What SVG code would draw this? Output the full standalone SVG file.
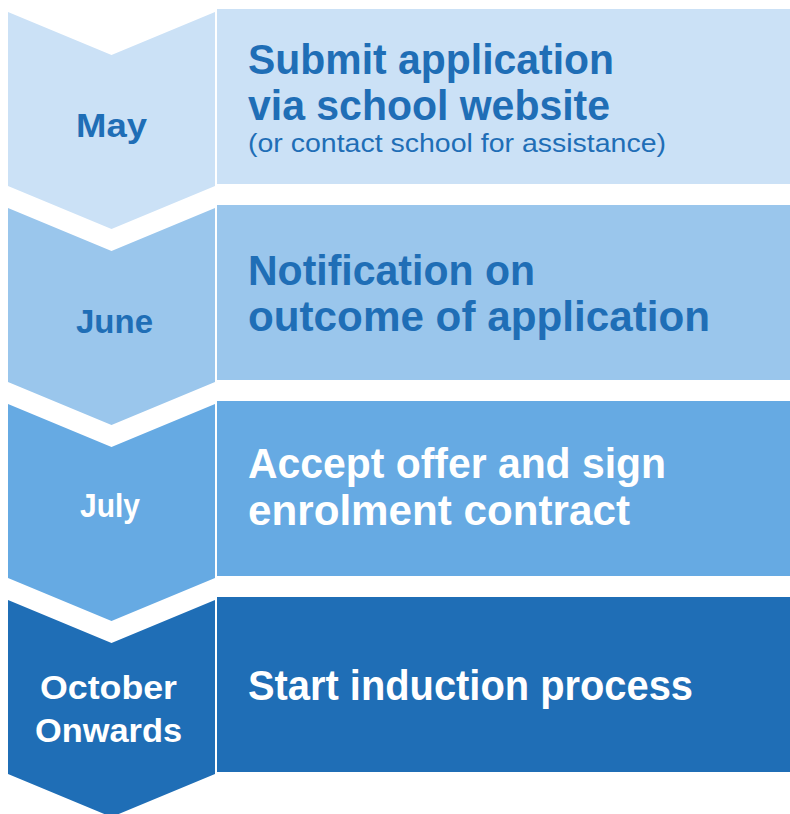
<svg xmlns="http://www.w3.org/2000/svg" width="790" height="814" viewBox="0 0 790 814">
<style>
.t{font-family:"Liberation Sans",Arial,sans-serif;font-weight:bold}
.s{font-family:"Liberation Sans",Arial,sans-serif;font-weight:normal}
.lbl{text-anchor:middle;font-size:33px}
.big{font-size:43px}
.blue{fill:#1F6EB6}
.white{fill:#FFFFFF}
.c1{fill:#CBE1F6}.c2{fill:#9AC6EC}.c3{fill:#66AAE3}.c4{fill:#1F6EB6}
</style>
<rect width="790" height="814" fill="#FFFFFF"/>
<g id="row-may">
<path class="c1" d="M8,12 L111.5,55 L215,12 L215,186 L111.5,229 L8,186 Z"/>
<text class="t lbl blue" x="111.5" y="137" textLength="71" lengthAdjust="spacingAndGlyphs">May</text>
<rect class="c1" x="217" y="9" width="573" height="175"/>
<text class="t big blue" x="248" y="74" textLength="366" lengthAdjust="spacingAndGlyphs">Submit application</text>
<text class="t big blue" x="248" y="120" textLength="362" lengthAdjust="spacingAndGlyphs">via school website</text>
<text class="s blue" x="248" y="152" font-size="26" textLength="418" lengthAdjust="spacingAndGlyphs">(or contact school for assistance)</text>
</g>
<g id="row-june">
<path class="c2" d="M8,208 L111.5,251 L215,208 L215,382 L111.5,425 L8,382 Z"/>
<text class="t lbl blue" x="114.5" y="333" textLength="77" lengthAdjust="spacingAndGlyphs">June</text>
<rect class="c2" x="217" y="205" width="573" height="175"/>
<text class="t big blue" x="248" y="285" textLength="287" lengthAdjust="spacingAndGlyphs">Notification on</text>
<text class="t big blue" x="248" y="331" textLength="462" lengthAdjust="spacingAndGlyphs">outcome of application</text>
</g>
<g id="row-july">
<path class="c3" d="M8,404 L111.5,447 L215,404 L215,578 L111.5,621 L8,578 Z"/>
<text class="t lbl white" x="110" y="517" textLength="60" lengthAdjust="spacingAndGlyphs">July</text>
<rect class="c3" x="217" y="401" width="573" height="175"/>
<text class="t big white" x="248" y="478" textLength="418" lengthAdjust="spacingAndGlyphs">Accept offer and sign</text>
<text class="t big white" x="248" y="525" textLength="382" lengthAdjust="spacingAndGlyphs">enrolment contract</text>
</g>
<g id="row-october">
<path class="c4" d="M8,600 L111.5,643 L215,600 L215,774 L111.5,817 L8,774 Z"/>
<text class="t lbl white" x="108.5" y="699" textLength="137" lengthAdjust="spacingAndGlyphs">October</text>
<text class="t lbl white" x="108.5" y="742" textLength="147" lengthAdjust="spacingAndGlyphs">Onwards</text>
<rect class="c4" x="217" y="597" width="573" height="175"/>
<text class="t big white" x="248" y="700" textLength="445" lengthAdjust="spacingAndGlyphs">Start induction process</text>
</g>
</svg>
